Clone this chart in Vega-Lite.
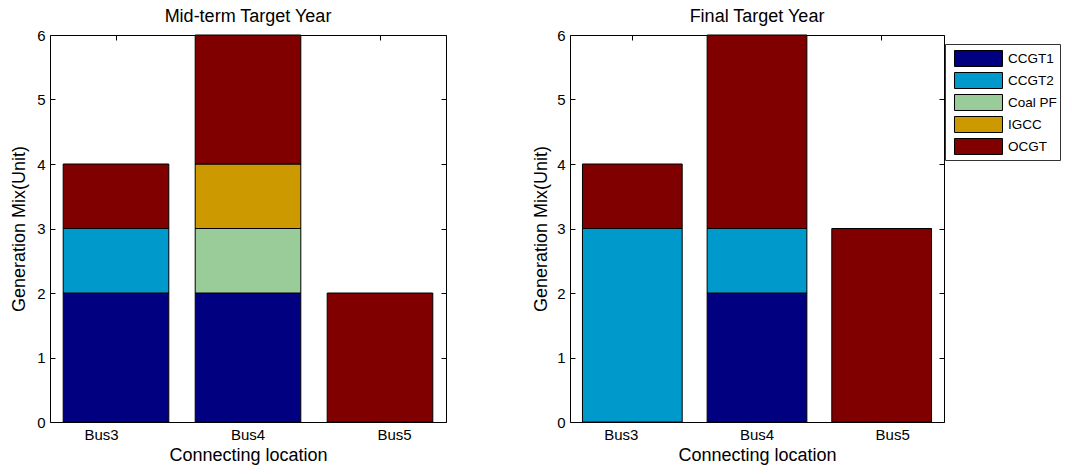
{
  "$schema": "https://vega.github.io/schema/vega-lite/v6.json",
  "padding": {"left": 10, "top": 7, "right": 0, "bottom": 0},
  "background": "white",
  "data": {"values": [
    {"panel": "Mid", "bus": "Bus3", "type": "CCGT1", "units": 2},
    {"panel": "Mid", "bus": "Bus3", "type": "CCGT2", "units": 1},
    {"panel": "Mid", "bus": "Bus3", "type": "OCGT", "units": 1},
    {"panel": "Mid", "bus": "Bus4", "type": "CCGT1", "units": 2},
    {"panel": "Mid", "bus": "Bus4", "type": "Coal PF", "units": 1},
    {"panel": "Mid", "bus": "Bus4", "type": "IGCC", "units": 1},
    {"panel": "Mid", "bus": "Bus4", "type": "OCGT", "units": 2},
    {"panel": "Mid", "bus": "Bus5", "type": "OCGT", "units": 2},
    {"panel": "Final", "bus": "Bus3", "type": "CCGT2", "units": 3},
    {"panel": "Final", "bus": "Bus3", "type": "OCGT", "units": 1},
    {"panel": "Final", "bus": "Bus4", "type": "CCGT1", "units": 2},
    {"panel": "Final", "bus": "Bus4", "type": "CCGT2", "units": 1},
    {"panel": "Final", "bus": "Bus4", "type": "OCGT", "units": 3},
    {"panel": "Final", "bus": "Bus5", "type": "OCGT", "units": 3}
  ]},
  "spacing": 85,
  "hconcat": [
    {
      "title": {"text": "Mid-term Target Year", "fontSize": 18, "fontWeight": "normal", "font": "Liberation Sans", "color": "black", "offset": 2},
      "width": 396,
      "height": 387,
      "transform": [{"filter": "datum.panel === 'Mid'"}],
      "layer": [
        {
          "mark": {"type": "bar", "stroke": "black", "strokeWidth": 1},
          "encoding": {
            "x": {"field": "bus", "type": "nominal", "title": "Connecting location",
                  "scale": {"paddingInner": 0.2, "paddingOuter": 0.1},
                  "axis": {"orient": "bottom", "titlePadding": 4,
                           "labelOffset": {"expr": "(datum.index - 0.5) * 29"}}},
            "y": {"field": "units", "type": "quantitative", "aggregate": "sum", "stack": "zero",
                  "title": "Generation Mix(Unit)",
                  "scale": {"domain": [0, 6]}, "axis": {"orient": "left", "tickCount": 6, "titlePadding": 8}},
            "color": {"field": "type", "type": "nominal",
                      "scale": {"domain": ["CCGT1", "CCGT2", "Coal PF", "IGCC", "OCGT"],
                                "range": ["#000080", "#0099cc", "#99cc99", "#cc9900", "#800000"]},
                      "legend": {"title": null, "orient": "none", "legendX": 895, "legendY": 9}},
            "order": {"field": "type", "type": "nominal", "sort": "ascending"}
          }
        },
        {
          "mark": {"type": "bar", "opacity": 0},
          "encoding": {
            "x": {"field": "bus", "type": "nominal",
                  "axis": {"orient": "top", "labels": false, "title": null}},
            "y": {"field": "units", "type": "quantitative", "aggregate": "sum",
                  "axis": {"orient": "right", "labels": false, "title": null, "tickCount": 6}}
          }
        }
      ],
      "resolve": {"axis": {"x": "independent", "y": "independent"}}
    },
    {
      "title": {"text": "Final Target Year", "fontSize": 18, "fontWeight": "normal", "font": "Liberation Sans", "color": "black", "offset": 2},
      "width": 374,
      "height": 387,
      "transform": [{"filter": "datum.panel === 'Final'"}],
      "layer": [
        {
          "mark": {"type": "bar", "stroke": "black", "strokeWidth": 1},
          "encoding": {
            "x": {"field": "bus", "type": "nominal", "title": "Connecting location",
                  "scale": {"paddingInner": 0.2, "paddingOuter": 0.1},
                  "axis": {"orient": "bottom", "titlePadding": 4,
                           "labelOffset": {"expr": "(datum.index - 0.5) * 22"}}},
            "y": {"field": "units", "type": "quantitative", "aggregate": "sum", "stack": "zero",
                  "title": "Generation Mix(Unit)",
                  "scale": {"domain": [0, 6]}, "axis": {"orient": "left", "tickCount": 6, "titlePadding": 6}},
            "color": {"field": "type", "type": "nominal",
                      "scale": {"domain": ["CCGT1", "CCGT2", "Coal PF", "IGCC", "OCGT"],
                                "range": ["#000080", "#0099cc", "#99cc99", "#cc9900", "#800000"]},
                      "legend": {"title": null, "orient": "none", "legendX": 895, "legendY": 9}},
            "order": {"field": "type", "type": "nominal", "sort": "ascending"}
          }
        },
        {
          "mark": {"type": "bar", "opacity": 0},
          "encoding": {
            "x": {"field": "bus", "type": "nominal",
                  "axis": {"orient": "top", "labels": false, "title": null}},
            "y": {"field": "units", "type": "quantitative", "aggregate": "sum",
                  "axis": {"orient": "right", "labels": false, "title": null, "tickCount": 6}}
          }
        }
      ],
      "resolve": {"axis": {"x": "independent", "y": "independent"}}
    }
  ],
  "config": {
    "font": "Liberation Sans",
    "view": {"stroke": "black", "strokeWidth": 1},
    "axis": {
      "domain": false,
      "grid": false,
      "ticks": true,
      "tickSize": -5,
      "tickColor": "black",
      "labelFont": "Liberation Sans",
      "labelFontSize": 15,
      "labelColor": "black",
      "labelAngle": 0,
      "labelPadding": 10,
      "titleFont": "Liberation Sans",
      "titleFontSize": 18,
      "titleFontWeight": "normal",
      "titleColor": "black",
      "titlePadding": 2
    },
    "legend": {
      "strokeColor": "#333333",
      "fillColor": "white",
      "padding": 3,
      "titleFontSize": 0,
      "titlePadding": 0,
      "labelFont": "Liberation Sans",
      "labelFontSize": 13.5,
      "labelColor": "black",
      "symbolType": "M-0.455,-0.727H3.909V0.727H-0.455Z",
      "symbolSize": 484,
      "symbolStrokeColor": "black",
      "symbolStrokeWidth": 1,
      "symbolOpacity": 1,
      "labelOffset": 37,
      "rowPadding": 0
    }
  }
}
